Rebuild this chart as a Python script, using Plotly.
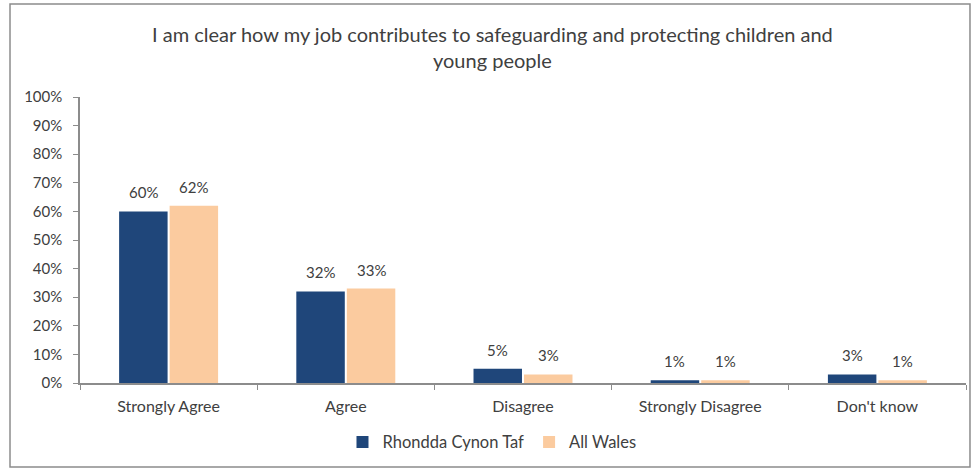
import plotly.graph_objects as go

categories = ["Strongly Agree", "Agree", "Disagree", "Strongly Disagree", "Don't know"]
rct_values = [60, 32, 5, 1, 3]
wales_values = [62, 33, 3, 1, 1]
series_names = ["Rhondda Cynon Taf", "All Wales"]
y_ticks = list(range(0, 101, 10))

FONT = "Lato, Open Sans, sans-serif"
NAVY = "#1F467A"
PEACH = "#FBCB9F"
AXIS = "#8C8C8C"
TEXT = "#404040"

BARGAP = 0.43
GROUPGAP = 0.04

fig = go.Figure()
for name, vals, color in [(series_names[0], rct_values, NAVY),
                          (series_names[1], wales_values, PEACH)]:
    fig.add_trace(go.Bar(
        x=categories, y=vals, name=name,
        marker=dict(color=color, line=dict(width=0)),
    ))

# Value labels above each bar, centred on the bar's slot within its group
slot = (1 - BARGAP) / 2
for s, vals in enumerate([rct_values, wales_values]):
    offset = (s - 0.5) * slot
    for i, v in enumerate(vals):
        fig.add_annotation(
            x=i + offset, y=v, xref="x", yref="y",
            text=f"{v}%", showarrow=False,
            yanchor="bottom", yshift=8,
            font=dict(size=15, color=TEXT, family=FONT),
        )

fig.update_layout(
    width=975, height=472,
    margin=dict(l=80, r=9, t=97, b=89),
    paper_bgcolor="white", plot_bgcolor="white",
    barmode="group", bargap=BARGAP, bargroupgap=GROUPGAP,
    font=dict(family=FONT, color=TEXT, size=15),
    title=dict(
        text="I am clear how my job contributes to safeguarding and protecting children and<br>young people",
        x=0.505, xanchor="center", y=0.912, yanchor="middle",
        font=dict(size=20, color=TEXT, family=FONT),
    ),
    legend=dict(
        orientation="h", x=0.465, xanchor="center", y=-0.207, yanchor="middle",
        font=dict(size=16.5, color=TEXT, family=FONT),
        itemwidth=30, traceorder="normal",
    ),
    showlegend=True,
)
fig.update_xaxes(
    showline=True, linecolor=AXIS, linewidth=1.5,
    ticks="outside", tickson="boundaries", ticklen=5, tickcolor=AXIS,
    ticklabelstandoff=8,
    tickfont=dict(size=16, color=TEXT, family=FONT),
    showgrid=False,
)
fig.update_yaxes(
    range=[0, 100], tickvals=y_ticks, ticktext=[f"{v}%" for v in y_ticks],
    showline=True, linecolor=AXIS, linewidth=1.5,
    ticks="outside", ticklen=5, tickcolor=AXIS,
    ticklabelstandoff=8,
    tickfont=dict(size=15, color=TEXT, family=FONT),
    showgrid=False, zeroline=False,
)

# Outer chart frame
fig.add_shape(
    type="rect", xref="paper", yref="paper",
    x0=-0.079, x1=1.0045, y0=-0.294, y1=1.325,
    line=dict(color="#8C8C8C", width=1.5), fillcolor="rgba(0,0,0,0)", layer="below",
)

fig.write_html("out.html")
